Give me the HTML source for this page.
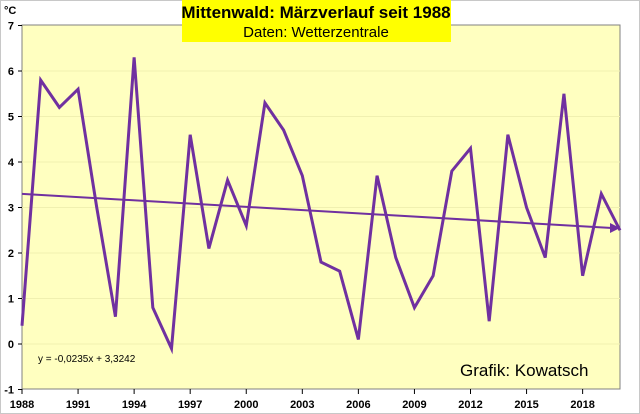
<!DOCTYPE html>
<html><head><meta charset="utf-8"><style>
body{margin:0;background:#fff;font-family:"Liberation Sans",sans-serif}
svg{display:block}
</style></head><body>
<svg id="c" width="640" height="414">
<rect x="0.5" y="0.5" width="639" height="413" fill="#fff" stroke="#c8c8c8"/>
<rect id="plot" x="22" y="25" width="598" height="364" fill="#ffffc0" stroke="#808080"/>
<g id="grid"></g><g id="ticks"></g>
<polyline id="series" fill="none" stroke="#7030a0" stroke-width="3" stroke-linejoin="miter"/>
<line id="trend" stroke="#7030a0" stroke-width="2"/>
<polygon id="arrow" fill="#7030a0"/>
<rect x="182" y="0" width="269" height="42" fill="#ffff00"/>
<text x="316" y="18" text-anchor="middle" font-size="17" font-weight="bold">Mittenwald: Märzverlauf seit 1988</text>
<text x="316" y="37" text-anchor="middle" font-size="15">Daten: Wetterzentrale</text>
<text x="4" y="14" font-size="11" font-weight="bold">°C</text>
<text x="38" y="362" font-size="10">y = -0,0235x + 3,3242</text>
<text x="460" y="376" font-size="17">Grafik: Kowatsch</text>
</svg>
<script>
const years=[1988,1989,1990,1991,1992,1993,1994,1995,1996,1997,1998,1999,2000,2001,2002,2003,2004,2005,2006,2007,2008,2009,2010,2011,2012,2013,2014,2015,2016,2017,2018,2019,2020];
const temps=[0.4,5.8,5.2,5.6,3.0,0.6,6.3,0.8,-0.1,4.6,2.1,3.6,2.6,5.3,4.7,3.7,1.8,1.6,0.1,3.7,1.9,0.8,1.5,3.8,4.3,0.5,4.6,3.0,1.9,5.5,1.5,3.3,2.5];
const yTicks=[-1,0,1,2,3,4,5,6,7];
const xTickLabels=[1988,1991,1994,1997,2000,2003,2006,2009,2012,2015,2018];
const trendSlope=-0.0235, trendIntercept=3.3242;
const NS="http://www.w3.org/2000/svg";
const x=yr=>22+(yr-1988)*(598/32);
const y=v=>344-v*45.5;
function mk(tag,attrs,parent){const e=document.createElementNS(NS,tag);for(const k in attrs)e.setAttribute(k,attrs[k]);document.getElementById(parent).appendChild(e);return e;}
yTicks.forEach(t=>{
  if(t>-1&&t<7){const g=mk('line',{x1:22,x2:620,y1:y(t),y2:y(t),stroke:'#f0f0b0','stroke-width':1},'grid');
  
  }
  const tk=mk('line',{x1:18,x2:22,y1:y(t),y2:y(t),stroke:'#000'},'ticks');
  
  
  const l=mk('text',{x:14,y:y(t)+4,'text-anchor':'end','font-size':11,'font-weight':'bold'},'ticks');l.textContent=t;
  
  
});
xTickLabels.forEach(t=>{
  const tk=mk('line',{x1:x(t),x2:x(t),y1:389,y2:394,stroke:'#000'},'ticks');
  
  
  const l=mk('text',{x:x(t),y:408,'text-anchor':'middle','font-size':11,'font-weight':'bold'},'ticks');l.textContent=t;
  
  
});
document.getElementById('series').setAttribute('points',years.map((yr,i)=>x(yr)+','+y(temps[i])).join(' '));
const n=years.length;
const x1=x(years[0]),y1=y(trendSlope*1+trendIntercept),x2=x(years[n-1]),y2=y(trendSlope*n+trendIntercept);
const tr=document.getElementById('trend');
tr.setAttribute('x1',x1);tr.setAttribute('y1',y1);tr.setAttribute('x2',x2-8);tr.setAttribute('y2',y2);
document.getElementById('arrow').setAttribute('points',`${x2},${y2} ${x2-10},${y2-5} ${x2-10},${y2+5}`);
</script>
</body></html>
